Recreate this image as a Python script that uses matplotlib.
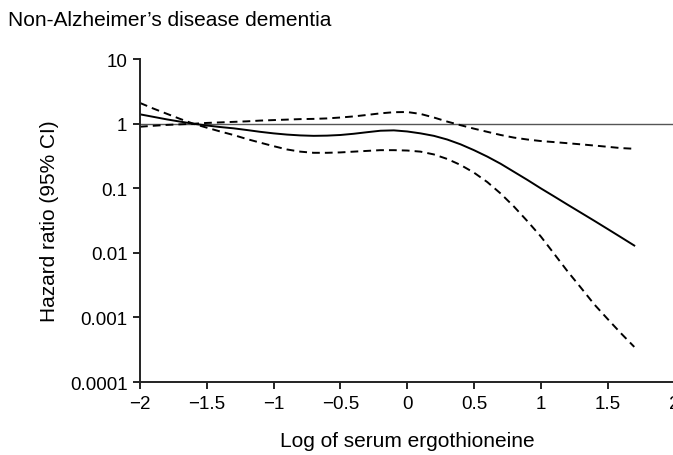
import matplotlib.pyplot as plt
import numpy as np

plt.rcParams['font.family'] = ['Liberation Sans', 'DejaVu Sans']

# 数据
x = [-2.0, -1.9, -1.8, -1.7, -1.6, -1.5, -1.4, -1.3, -1.2, -1.1, -1.0, -0.9, -0.8, -0.7,
     -0.6, -0.5, -0.4, -0.3, -0.2, -0.1, 0.0, 0.1, 0.2, 0.3, 0.4, 0.5, 0.6, 0.7, 0.8,
     0.9, 1.0, 1.1, 1.2, 1.3, 1.4, 1.5, 1.6, 1.7]
hr = [1.40, 1.28, 1.17, 1.08, 1.0, 0.94, 0.89, 0.85, 0.80, 0.75, 0.71, 0.68, 0.66, 0.65,
      0.655, 0.67, 0.70, 0.74, 0.78, 0.79, 0.76, 0.71, 0.65, 0.57, 0.48, 0.39, 0.31, 0.24, 0.18,
      0.135, 0.10, 0.075, 0.056, 0.042, 0.0315, 0.0235, 0.0175, 0.013]
# 两条置信限在 -1.6 附近交叉
ci_a = [2.1, 1.72, 1.43, 1.19, 1.0, 0.87, 0.76, 0.67, 0.58, 0.51, 0.45, 0.40, 0.37, 0.355,
        0.355, 0.36, 0.37, 0.38, 0.39, 0.39, 0.385, 0.37, 0.335, 0.285, 0.23, 0.175, 0.125, 0.083, 0.052,
        0.031, 0.018, 0.0097, 0.0052, 0.0029, 0.0016, 0.00095, 0.00057, 0.00035]
ci_b = [0.9, 0.93, 0.96, 0.98, 1.0, 1.03, 1.05, 1.07, 1.09, 1.12, 1.14, 1.16, 1.18, 1.19,
        1.21, 1.25, 1.30, 1.37, 1.45, 1.51, 1.52, 1.42, 1.25, 1.08, 0.95, 0.84, 0.75, 0.67, 0.61,
        0.57, 0.54, 0.52, 0.50, 0.48, 0.46, 0.44, 0.42, 0.41]

xticks = [-2, -1.5, -1, -0.5, 0, 0.5, 1, 1.5, 2]
xticklabels = ['\u22122', '\u22121.5', '\u22121', '\u22120.5', '0', '0.5', '1', '1.5', '2']
yticks = [0.0001, 0.001, 0.01, 0.1, 1, 10]
yticklabels = ['0.0001', '0.001', '0.01', '0.1', '1', '10']

fig = plt.figure(figsize=(6.73, 4.56), dpi=100)
ax = fig.add_axes([0.208, 0.160, 0.794, 0.708])

ax.axhline(1, color='#555555', lw=1.0)
ax.plot(x, hr, color='black', lw=1.4)
ax.plot(x, ci_a, color='black', lw=1.4, dashes=(4, 2.6))
ax.plot(x, ci_b, color='black', lw=1.4, dashes=(4, 2.6))

ax.set_yscale('log')
ax.set_xlim(-2, 2)
ax.set_ylim(0.0001, 10)
ax.set_xticks(xticks)
ax.set_xticklabels(xticklabels)
ax.set_yticks(yticks)
ax.set_yticklabels(yticklabels)
ax.minorticks_off()

for s in ['top', 'right']:
    ax.spines[s].set_visible(False)
for s in ['left', 'bottom']:
    ax.spines[s].set_linewidth(1.4)
    ax.spines[s].set_color('#222222')
ax.tick_params(length=5, width=1.4, color='#222222', labelsize=13.5, pad=4)

ax.set_xlabel('Log of serum ergothioneine', fontsize=15, labelpad=14)
ax.set_ylabel('Hazard ratio (95% CI)', fontsize=15, labelpad=8)

fig.text(0.012, 0.956, 'Non-Alzheimer\u2019s disease dementia', fontsize=15, va='center', ha='left')

plt.savefig('out.png', dpi=100)
